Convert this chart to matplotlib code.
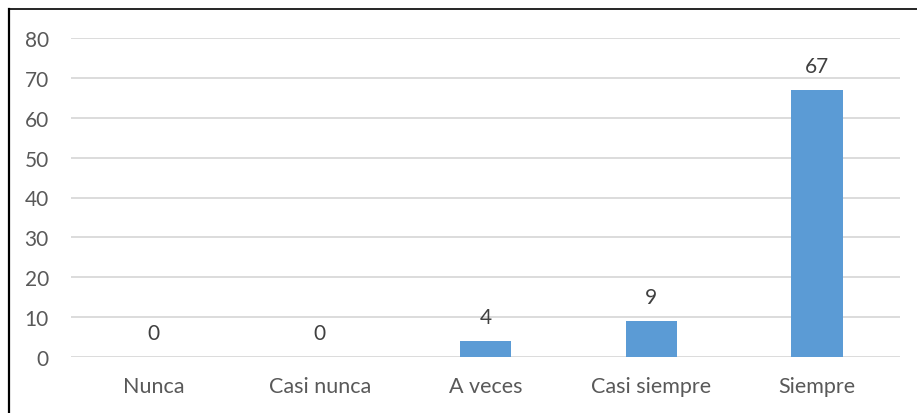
import matplotlib
matplotlib.use("Agg")
import matplotlib.pyplot as plt
from matplotlib.lines import Line2D

categories = ["Nunca", "Casi nunca", "A veces", "Casi siempre", "Siempre"]
values = [0, 0, 4, 9, 67]
yticks = [0, 10, 20, 30, 40, 50, 60, 70, 80]

plt.rcParams["font.family"] = ["Lato", "DejaVu Sans"]

W, H = 917, 414
fig = plt.figure(figsize=(W / 100, H / 100), dpi=100)
ax = fig.add_axes([71 / W, 1 - 358 / H, (900 - 71) / W, (358 - 39) / H])

x = range(len(categories))
bars = ax.bar(x, values, width=0.31, color="#5B9BD5", zorder=3)

for xi, v in zip(x, values):
    ax.annotate(str(v), (xi, v), xytext=(0, 10), textcoords="offset points",
                ha="center", va="bottom", fontsize=15, color="#404040")

ax.set_xlim(-0.5, len(categories) - 0.5)
ax.set_ylim(0, 80)
ax.set_yticks(yticks)
ax.set_xticks(list(x))
ax.set_xticklabels(categories)
ax.tick_params(axis="y", length=0, pad=16, labelsize=15, labelcolor="#595959")
ax.tick_params(axis="x", length=0, pad=14, labelsize=15.5, labelcolor="#595959")
ax.grid(axis="y", color="#D9D9D9", linewidth=1.3, zorder=0)
for s in ax.spines.values():
    s.set_visible(False)

# frame lines along the left and top edges
fig.add_artist(Line2D([8.5 / W, 8.5 / W], [0, 1 - 10 / H], color="black", linewidth=1.6,
                      transform=fig.transFigure))
fig.add_artist(Line2D([8.5 / W, 1], [1 - 10 / H, 1 - 10 / H], color="black", linewidth=1.2,
                      transform=fig.transFigure))

fig.savefig("out.png", dpi=100)
